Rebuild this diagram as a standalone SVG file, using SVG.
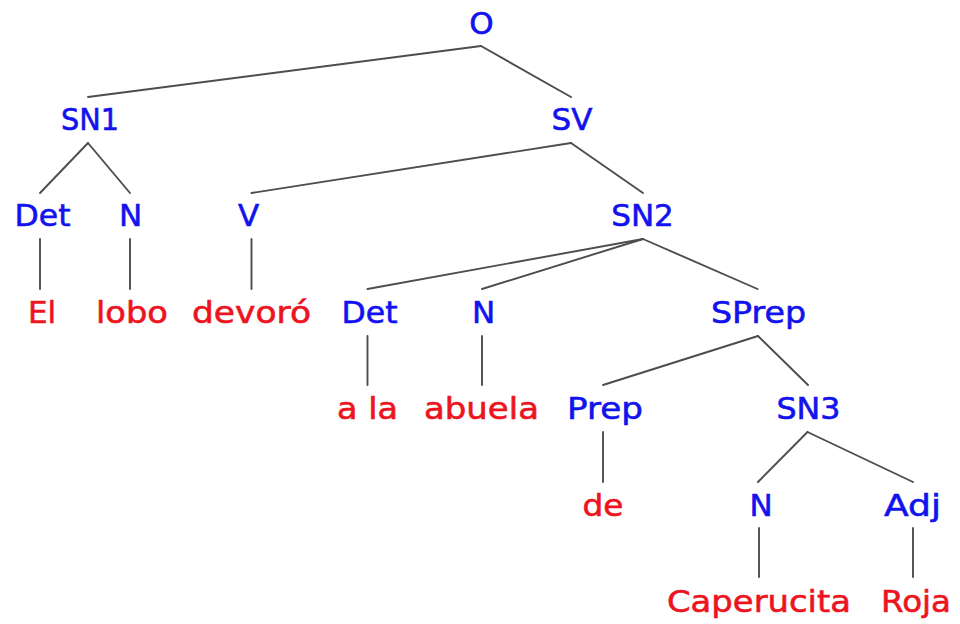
<svg xmlns="http://www.w3.org/2000/svg" width="960" height="624" viewBox="0 0 960 624">
<style>
text{font-family:"DejaVu Sans","Liberation Sans",sans-serif;font-size:31px;text-anchor:middle;stroke-width:0.6}
.c{fill:#1212ee;stroke:#1212ee}
.w{fill:#ec1420;stroke:#ec1420}
.e line{stroke:#4d4d4d;stroke-width:1.9;stroke-linecap:round}
</style>
<rect width="960" height="624" fill="#fff"/>
<g class="e" id="connectors">
<line x1="481" y1="46" x2="88" y2="97"/>
<line x1="481" y1="46" x2="571" y2="97"/>
<line x1="88" y1="143" x2="40" y2="193"/>
<line x1="88" y1="143" x2="130" y2="193"/>
<line x1="571" y1="143" x2="251.5" y2="193"/>
<line x1="571" y1="143" x2="643" y2="193"/>
<line x1="40" y1="239" x2="40" y2="289"/>
<line x1="130" y1="239" x2="130" y2="289"/>
<line x1="251.5" y1="239" x2="251.5" y2="289"/>
<line x1="643" y1="239" x2="367.5" y2="289"/>
<line x1="643" y1="239" x2="482" y2="289"/>
<line x1="643" y1="239" x2="757.5" y2="289"/>
<line x1="367.5" y1="336" x2="367.5" y2="385"/>
<line x1="482" y1="336" x2="482" y2="385"/>
<line x1="758" y1="336" x2="603" y2="385"/>
<line x1="758" y1="336" x2="808" y2="385"/>
<line x1="603" y1="432" x2="603" y2="482"/>
<line x1="807.5" y1="432" x2="758" y2="482"/>
<line x1="807.5" y1="432" x2="913" y2="482"/>
<line x1="759" y1="528" x2="759" y2="577"/>
<line x1="913" y1="528" x2="913" y2="577"/>
</g>
<g id="n-O"><text class="c" x="481.5" y="34">O</text></g>
<g id="n-SN1"><text class="c" x="90" y="130" textLength="58" lengthAdjust="spacingAndGlyphs">SN1</text></g>
<g id="n-SV"><text class="c" x="572" y="130">SV</text></g>
<g id="n-Det1"><text class="c" x="42.5" y="226" textLength="56" lengthAdjust="spacingAndGlyphs">Det</text></g>
<g id="n-N1"><text class="c" x="130.5" y="226">N</text></g>
<g id="n-V"><text class="c" x="248.5" y="226">V</text></g>
<g id="n-SN2"><text class="c" x="642.5" y="226">SN2</text></g>
<g id="n-El"><text class="w" x="42" y="323">El</text></g>
<g id="n-lobo"><text class="w" x="132" y="323" textLength="72" lengthAdjust="spacingAndGlyphs">lobo</text></g>
<g id="n-devoro"><text class="w" x="251.5" y="323" textLength="119" lengthAdjust="spacingAndGlyphs">devoró</text></g>
<g id="n-Det2"><text class="c" x="369.5" y="323" textLength="56" lengthAdjust="spacingAndGlyphs">Det</text></g>
<g id="n-N2"><text class="c" x="483.5" y="323">N</text></g>
<g id="n-SPrep"><text class="c" x="758.5" y="323" textLength="95" lengthAdjust="spacingAndGlyphs">SPrep</text></g>
<g id="n-ala"><text class="w" x="367.5" y="419" textLength="61" lengthAdjust="spacingAndGlyphs">a la</text></g>
<g id="n-abuela"><text class="w" x="481.5" y="419" textLength="115" lengthAdjust="spacingAndGlyphs">abuela</text></g>
<g id="n-Prep"><text class="c" x="605" y="419" textLength="76" lengthAdjust="spacingAndGlyphs">Prep</text></g>
<g id="n-SN3"><text class="c" x="808.5" y="419" textLength="64" lengthAdjust="spacingAndGlyphs">SN3</text></g>
<g id="n-de"><text class="w" x="603" y="516" textLength="41" lengthAdjust="spacingAndGlyphs">de</text></g>
<g id="n-N3"><text class="c" x="761" y="516">N</text></g>
<g id="n-Adj"><text class="c" x="912.5" y="516" textLength="57" lengthAdjust="spacingAndGlyphs">Adj</text></g>
<g id="n-Caperucita"><text class="w" x="759" y="612" textLength="184" lengthAdjust="spacingAndGlyphs">Caperucita</text></g>
<g id="n-Roja"><text class="w" x="916" y="612" textLength="70" lengthAdjust="spacingAndGlyphs">Roja</text></g>
</svg>
